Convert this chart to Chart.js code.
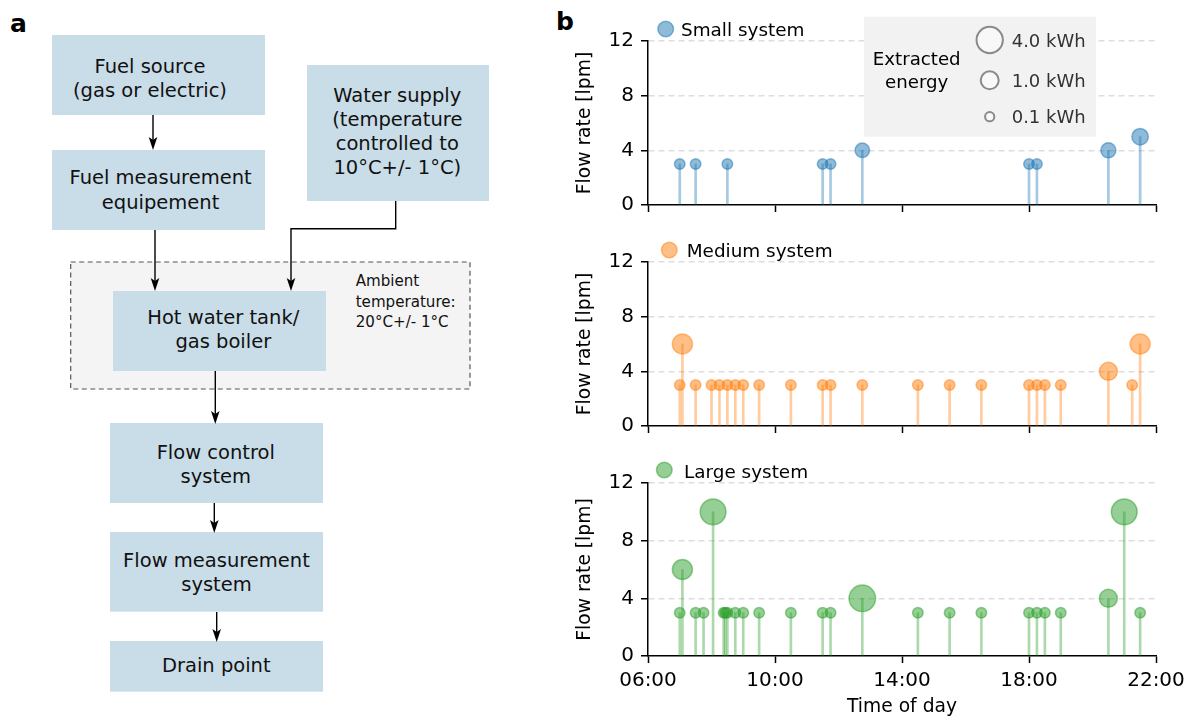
<!DOCTYPE html>
<html><head><meta charset="utf-8">
<script src="https://cdn.jsdelivr.net/npm/chart.js@4.4.1/dist/chart.umd.min.js"></script>
<style>
html,body{margin:0;padding:0;background:#fff;}
#wrap{position:relative;width:1192px;height:718px;overflow:hidden;font-family:"DejaVu Sans";}
#diagram{position:absolute;left:0;top:0;}
canvas{position:absolute;left:560px;}
</style></head><body>
<div id="wrap">
<svg id="diagram" width="1192" height="718" xmlns="http://www.w3.org/2000/svg" font-family="DejaVu Sans">
  <text x="10" y="31.5" font-size="25" font-weight="bold">a</text>
  <text x="556" y="30" font-size="25" font-weight="bold">b</text>
  <rect x="70.7" y="262" width="399.3" height="127" fill="#f4f4f4" stroke="#555" stroke-width="1.2" stroke-dasharray="5 3.5"/>
  <g fill="#c9dde8">
    <rect x="52" y="35" width="213" height="80"/>
    <rect x="52" y="150" width="213" height="80"/>
    <rect x="307" y="65" width="182" height="136"/>
    <rect x="113" y="291" width="213" height="80"/>
    <rect x="110" y="423" width="213" height="80"/>
    <rect x="110" y="532" width="213" height="79.7"/>
    <rect x="110" y="641" width="213" height="50.7"/>
  </g>
  <g font-size="19.5" text-anchor="middle" fill="#111">
    <text x="150" y="72.5">Fuel source</text>
    <text x="150" y="96.8">(gas or electric)</text>
    <text x="160.6" y="184.2">Fuel measurement</text>
    <text x="160.6" y="208.5">equipement</text>
    <text x="397.3" y="101.5">Water supply</text>
    <text x="397.3" y="125.8">(temperature</text>
    <text x="397.3" y="150.1">controlled to</text>
    <text x="397.3" y="174.4">10°C+/- 1°C)</text>
    <text x="223.3" y="323.5">Hot water tank/</text>
    <text x="223.3" y="347.8">gas boiler</text>
    <text x="215.8" y="458.5">Flow control</text>
    <text x="215.8" y="482.8">system</text>
    <text x="216.5" y="566.9">Flow measurement</text>
    <text x="216.5" y="591.2">system</text>
    <text x="216.3" y="671.9">Drain point</text>
  </g>
  <g font-size="15.1" fill="#111">
    <text x="355.7" y="286">Ambient</text>
    <text x="355.7" y="306.7">temperature:</text>
    <text x="355.7" y="327.4">20°C+/- 1°C</text>
  </g>
  <g stroke="#000" stroke-width="1.4" fill="none">
    <line x1="153" y1="115" x2="153" y2="146"/>
    <line x1="155" y1="230" x2="155" y2="287"/>
    <polyline points="395.7,201 395.7,228.7 291,228.7 291,287"/>
    <line x1="215.3" y1="371" x2="215.3" y2="420"/>
    <line x1="214.3" y1="503" x2="214.3" y2="529"/>
    <line x1="216.7" y1="612" x2="216.7" y2="638"/>
  </g>
  <g fill="#000">
    <path d="M153,150 l-4.3,-13 l4.3,3 l4.3,-3 z"/>
    <path d="M155,291 l-4.3,-13 l4.3,3 l4.3,-3 z"/>
    <path d="M291,291 l-4.3,-13 l4.3,3 l4.3,-3 z"/>
    <path d="M215.3,424 l-4.3,-13 l4.3,3 l4.3,-3 z"/>
    <path d="M214.3,533 l-4.3,-13 l4.3,3 l4.3,-3 z"/>
    <path d="M216.7,642 l-4.3,-13 l4.3,3 l4.3,-3 z"/>
  </g>
</svg>
<canvas id="c1" width="632" height="224" style="top:0px"></canvas>
<canvas id="c2" width="632" height="221" style="top:224px"></canvas>
<canvas id="c3" width="632" height="273" style="top:445px"></canvas>
</div>
<script>
// ---------- data ----------
const xTickLabels = ["06:00", "10:00", "14:00", "18:00", "22:00"];
const yTickValues = [0, 4, 8, 12];

const smallTimes = ["07:00","07:30","08:30","11:30","11:45","12:45","18:00","18:15","20:30","21:30"];
const smallFlow = [3,3,3,3,3,4,3,3,4,5];
const smallEnergy = [0.13,0.13,0.13,0.13,0.13,0.41,0.13,0.13,0.47,0.65];

const mediumTimes = ["07:00","07:05","07:30","08:00","08:15","08:30","08:45","09:00","09:30","10:30","11:30","11:45","12:45","14:30","15:30","16:30","18:00","18:15","18:30","19:00","20:30","21:15","21:30"];
const mediumFlow = [3,6,3,3,3,3,3,3,3,3,3,3,3,3,3,3,3,3,3,3,4,3,6];
const mediumEnergy = [0.13,1.35,0.13,0.13,0.13,0.13,0.13,0.13,0.13,0.13,0.13,0.13,0.13,0.13,0.13,0.13,0.13,0.13,0.13,0.13,0.9,0.13,1.35];

const largeTimes = ["07:00","07:05","07:30","07:45","08:03","08:23","08:26","08:30","08:45","09:00","09:30","10:30","11:30","11:45","12:45","14:30","15:30","16:30","18:00","18:15","18:30","19:00","20:30","21:00","21:30"];
const largeFlow = [3,6,3,3,10,3,3,3,3,3,3,3,3,3,4,3,3,3,3,3,3,3,4,10,3];
const largeEnergy = [0.13,1.35,0.13,0.13,3.5,0.13,0.13,0.13,0.13,0.13,0.13,0.13,0.13,0.13,3.85,0.13,0.13,0.13,0.13,0.13,0.13,0.13,0.9,3.5,0.13];

const seriesNames = ["Small system", "Medium system", "Large system"];
const legendEnergies = [4.0, 1.0, 0.1];
const legendLabels = ["4.0 kWh", "1.0 kWh", "0.1 kWh"];
const legendTitle = ["Extracted", "energy"];

// ---------- helpers ----------
function toHours(t){ const p = t.split(':').map(Number); return p[0] + p[1]/60; }
function radiusFor(E){ return 10 * Math.pow(E, 0.25); } // outer marker radius, px
function rgba(c, a){ return 'rgba(' + c.join(',') + ',' + a + ')'; }
const FONT = '"DejaVu Sans"';
Chart.defaults.font.family = FONT;
Chart.defaults.color = '#000';

const seriesLabel = {
  id: 'seriesLabel',
  afterDraw(chart, args, o) {
    const {ctx, chartArea} = chart;
    ctx.save();
    const mx = chartArea.left + o.mdx, my = chartArea.top + o.mdy;
    ctx.beginPath();
    ctx.arc(mx, my, o.r, 0, Math.PI * 2);
    ctx.fillStyle = o.color; ctx.fill();
    ctx.lineWidth = 1.5; ctx.strokeStyle = o.color; ctx.stroke();
    ctx.font = '18.4px ' + FONT;
    ctx.fillStyle = '#000';
    ctx.textAlign = 'left'; ctx.textBaseline = 'alphabetic';
    ctx.fillText(o.text, chartArea.left + o.tdx, chartArea.top + o.tdy);
    ctx.restore();
  }
};

const energyLegend = {
  id: 'energyLegend',
  afterDraw(chart) {
    const {ctx, chartArea} = chart;
    const L = chartArea.left;
    ctx.save();
    ctx.fillStyle = '#f2f2f2';
    ctx.fillRect(L + 216, 16.7, 232, 120);
    ctx.fillStyle = '#000';
    ctx.font = '18.2px ' + FONT;
    ctx.textAlign = 'center'; ctx.textBaseline = 'alphabetic';
    ctx.fillText(legendTitle[0], L + 268.7, 65);
    ctx.fillText(legendTitle[1], L + 268.7, 87.5);
    const rowY = [40, 80.3, 116.7];
    legendEnergies.forEach((E, i) => {
      ctx.beginPath();
      ctx.arc(L + 341.7, rowY[i], radiusFor(E) - 1, 0, Math.PI * 2);
      ctx.fillStyle = '#f8f8f8'; ctx.fill();
      ctx.lineWidth = 2; ctx.strokeStyle = '#8a8a8a'; ctx.stroke();
      ctx.fillStyle = '#333';
      ctx.textAlign = 'left';
      ctx.font = '18px ' + FONT;
      ctx.fillText(legendLabels[i], L + 363.7, rowY[i] + 6.6);
    });
    ctx.restore();
  }
};

function makePanel(id, p) {
  const bubbles = p.times.map((t, i) => ({x: toHours(t), y: p.flows[i], r: radiusFor(p.energies[i]) - 0.75}));
  const stems = p.times.map((t, i) => ({x: toHours(t), y: p.flows[i]}));
  const plugins = [seriesLabel];
  if (p.energyLegend) plugins.push(energyLegend);
  return new Chart(document.getElementById(id), {
    type: 'bubble',
    data: {
      datasets: [
        {type: 'bubble', label: p.name, data: bubbles, backgroundColor: rgba(p.rgb, 0.5), borderColor: rgba(p.rgb, 0.5), borderWidth: 1.5, order: 0, clip: false},
        {type: 'bar', label: p.name + ' stems', data: stems, backgroundColor: rgba(p.rgb, 0.4), borderWidth: 0, barThickness: 2, order: 1}
      ]
    },
    options: {
      responsive: false, animation: false, events: [],
      layout: {padding: {top: p.padTop, right: 36, left: 0, bottom: 0}},
      plugins: {
        legend: {display: false}, tooltip: {enabled: false},
        seriesLabel: {text: p.name, color: rgba(p.rgb, 0.5), r: 7.8, mdx: p.mdx, mdy: p.mdy, tdx: p.tdx, tdy: p.tdy}
      },
      scales: {
        x: {
          type: 'linear', min: 6, max: 22, offset: false,
          ticks: {stepSize: 4, display: p.showX, autoSkip: false, maxRotation: 0, padding: 6,
                  font: {size: 20}, color: '#000', callback: (v, i) => xTickLabels[i]},
          grid: {drawOnChartArea: false, drawTicks: true, tickLength: 7, tickColor: '#000', tickWidth: 1.5, offset: false},
          border: {display: true, color: '#000', width: 1.5},
          title: {display: p.showX, text: 'Time of day', font: {size: 18.7}, color: '#000', padding: {top: 0, bottom: 0}},
          afterFit: s => { s.height = p.xHeight; }
        },
        y: {
          type: 'linear', min: yTickValues[0], max: yTickValues[yTickValues.length - 1],
          afterBuildTicks: s => { s.ticks = yTickValues.map(v => ({value: v})); },
          ticks: {font: {size: 20}, color: '#000', padding: 7},
          grid: {color: c => (c.tick && c.tick.value === 0) ? 'rgba(0,0,0,0)' : '#dedede', lineWidth: 1.5,
                 drawTicks: true, tickLength: 7, tickColor: '#000', tickWidth: 1.5},
          border: {display: true, color: '#000', width: 1.5, dash: [6, 4]},
          title: {display: true, text: 'Flow rate [lpm]', font: {size: 18.7}, color: '#000', padding: {top: 13.8, bottom: 0}},
          afterFit: s => { s.width = 88; }
        }
      }
    },
    plugins: plugins
  });
}

makePanel('c1', {name: seriesNames[0], times: smallTimes, flows: smallFlow, energies: smallEnergy, rgb: [31,119,180],
  padTop: 41, xHeight: 10, showX: false, energyLegend: true, mdx: 17.7, mdy: -12, tdx: 33, tdy: -5.5});
makePanel('c2', {name: seriesNames[1], times: mediumTimes, flows: mediumFlow, energies: mediumEnergy, rgb: [255,127,14],
  padTop: 38, xHeight: 10, showX: false, energyLegend: false, mdx: 21.3, mdy: -12, tdx: 38.7, tdy: -5.3});
makePanel('c3', {name: seriesNames[2], times: largeTimes, flows: largeFlow, energies: largeEnergy, rgb: [44,160,44],
  padTop: 38, xHeight: 62, showX: true, energyLegend: false, mdx: 16.3, mdy: -13, tdx: 36, tdy: -4.6});
</script>
</body></html>
